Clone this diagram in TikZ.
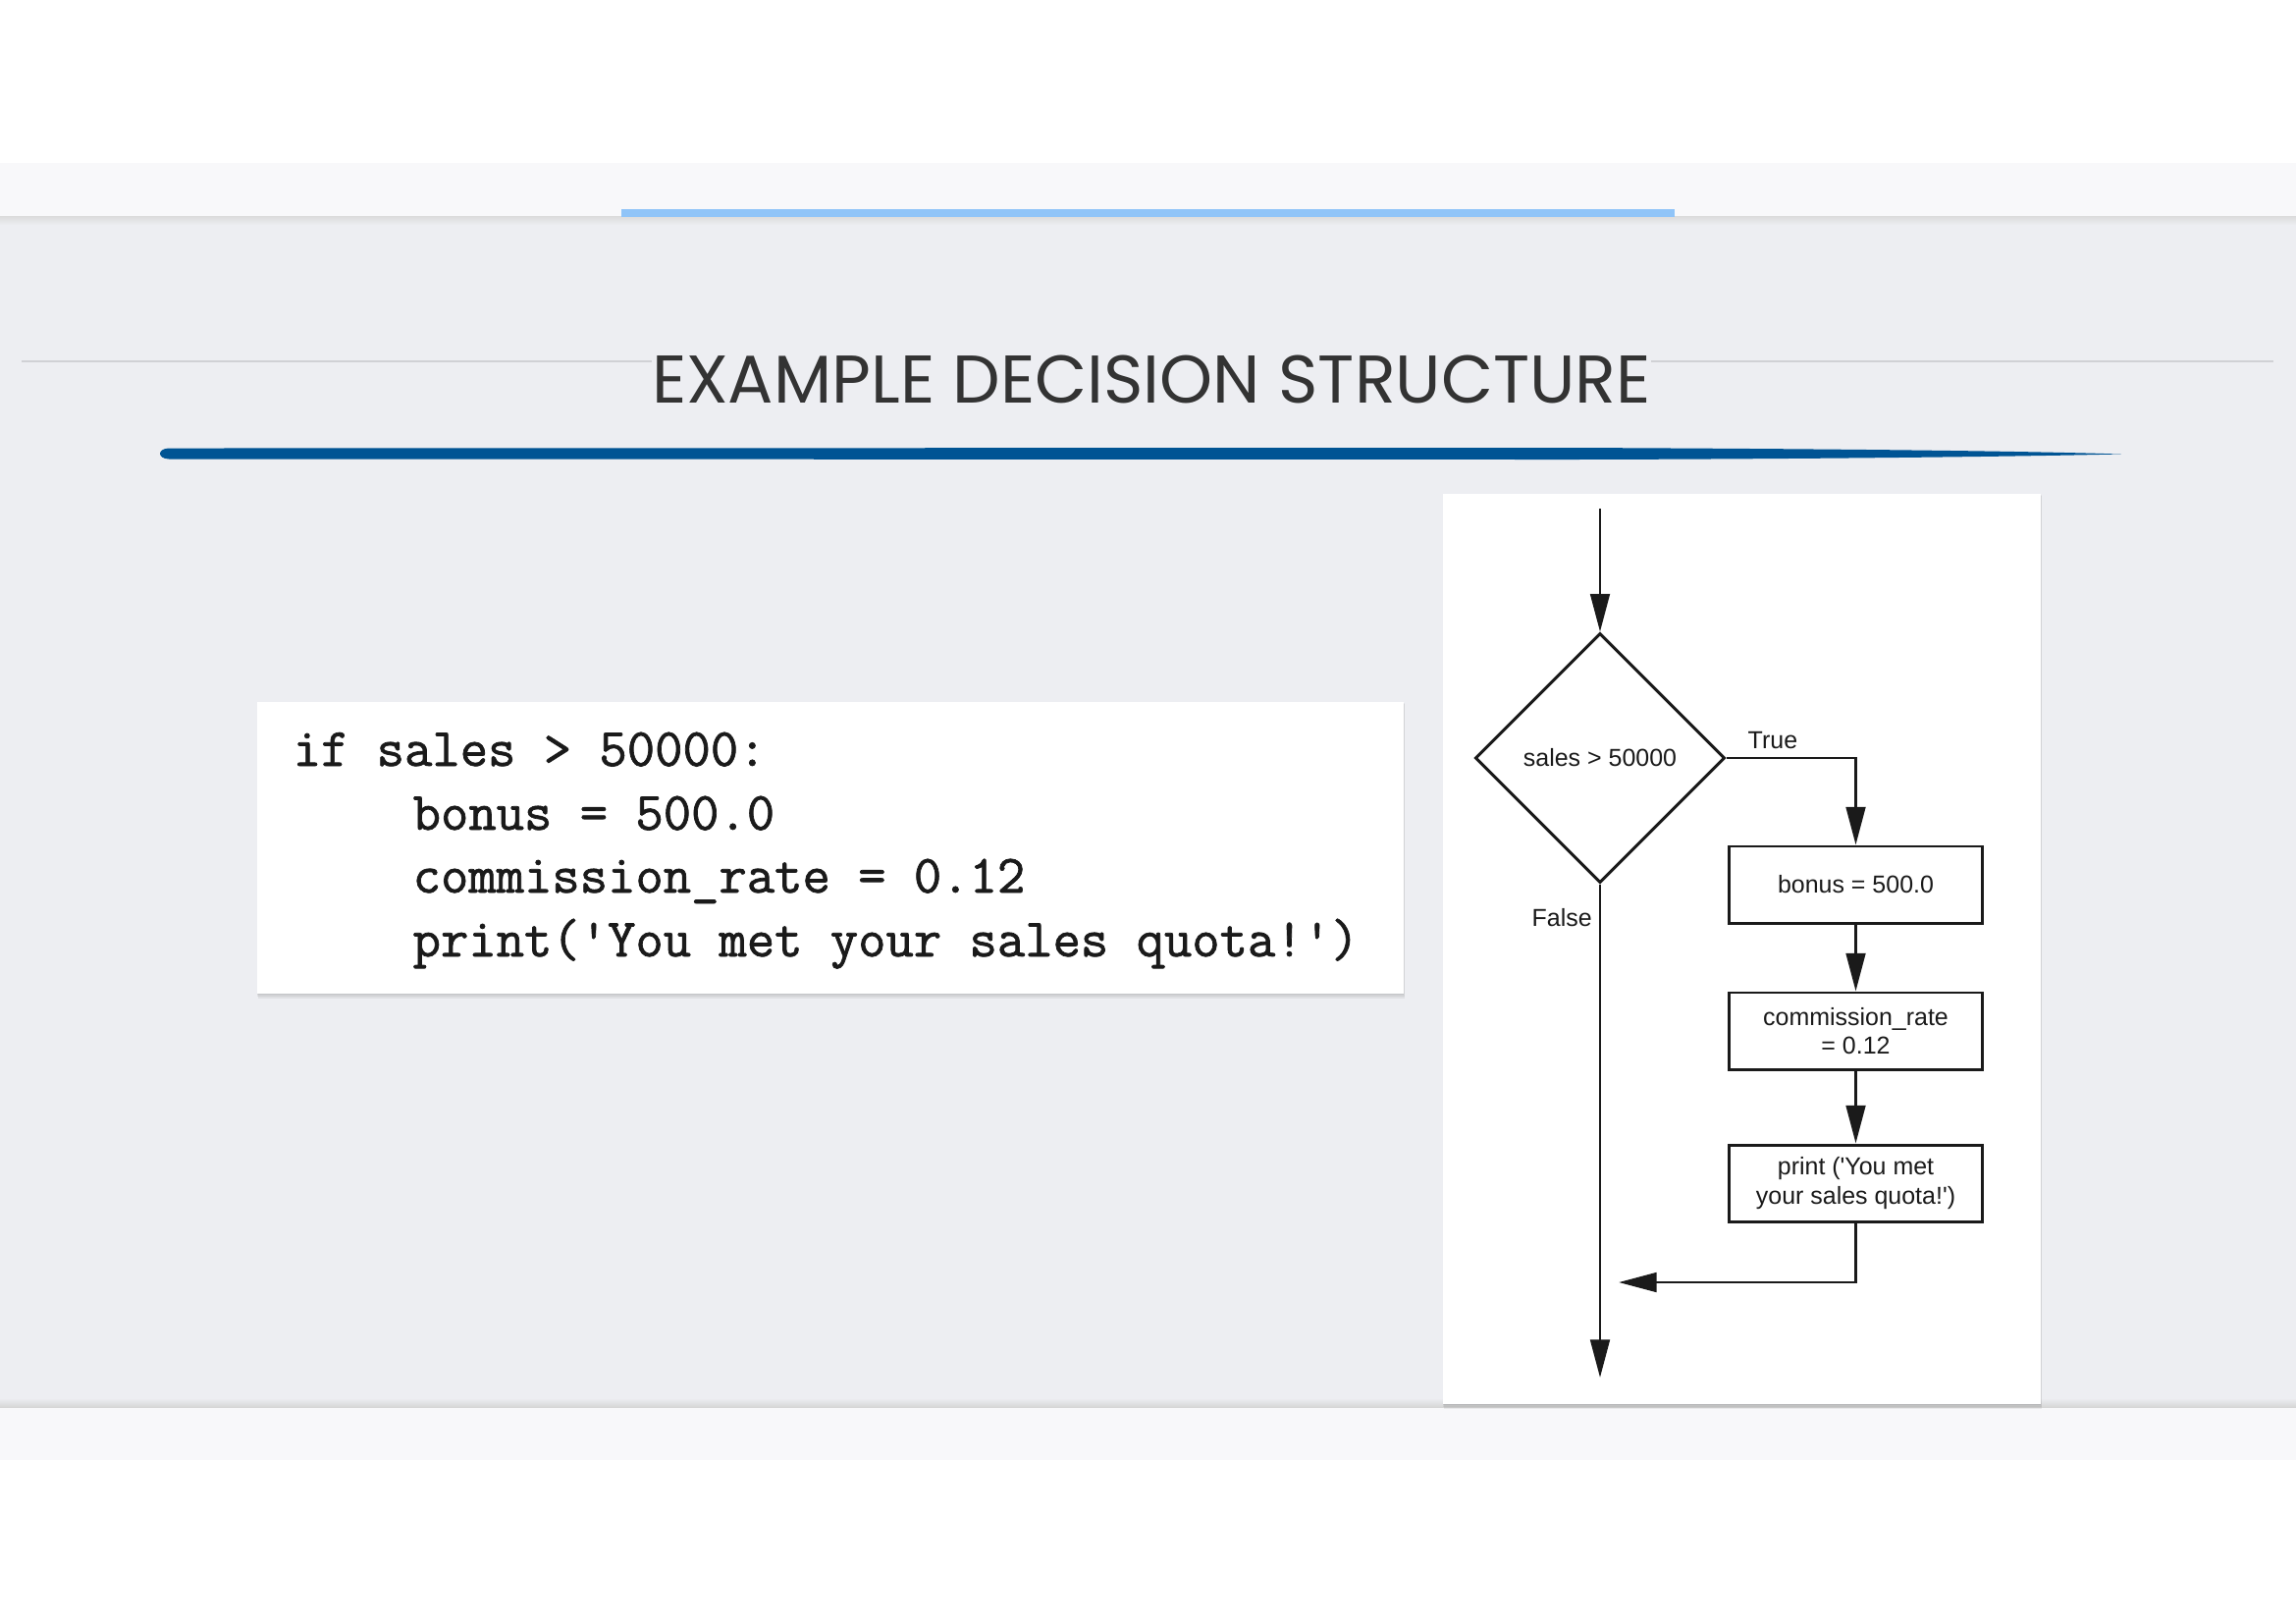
\documentclass[tikz,border=0pt]{standalone}
\usepackage{fontspec}
\setmainfont{Liberation Sans}
\newfontfamily\codemono{Latin Modern Mono}[FakeBold=1.3]
\newfontfamily\titlefont{Poppins}
\usetikzlibrary{arrows.meta,shapes.geometric}
\definecolor{pagebg}{RGB}{237,238,242}
\definecolor{stripbg}{RGB}{248,248,250}
\definecolor{barblue}{RGB}{144,196,248}
\definecolor{brushblue}{RGB}{0,84,148}
\definecolor{titlegray}{RGB}{51,51,51}
\definecolor{rulegray}{RGB}{208,209,213}
\definecolor{ink}{RGB}{26,26,26}
\newcommand{\flowfont}{\fontsize{7.1}{8.5}\selectfont}
\newcommand{\codefont}{\codemono\fontsize{15.65}{18}\selectfont}
\begin{document}
\begin{tikzpicture}[x=0.01cm,y=-0.01cm,
  flowline/.style={draw=ink,line width=0.8pt},
  arr/.style={flowline,-{Triangle[length=11pt,width=5.6pt]}},
  procbox/.style={draw=ink,line width=0.85pt,fill=white,minimum width=2.57cm,minimum height=0.78cm,inner sep=0pt,align=center,font=\flowfont,text=ink},
  decbox/.style={diamond,draw=ink,line width=0.85pt,minimum width=2.54cm,minimum height=2.54cm,inner sep=0pt,aspect=1,font=\flowfont,text=ink},
  lbl/.style={anchor=base west,inner sep=0pt,font=\flowfont,text=ink},
  codeline/.style={anchor=base west,inner sep=0pt,font=\codefont,text=ink},
  shadowlayer/.style={fill=black,opacity=0.06},
]
\useasboundingbox (0,0) rectangle (2339,1653);
% background
\fill[white] (0,0) rectangle (2339,1653);
\fill[stripbg] (0,166) rectangle (2339,220);
\fill[pagebg] (0,220) rectangle (2339,1433);
\fill[stripbg] (0,1433) rectangle (2339,1487);
\shade[top color=black!14,bottom color=pagebg] (0,220) rectangle (2339,229);
\shade[top color=pagebg,bottom color=black!16] (0,1424) rectangle (2339,1433);
\fill[barblue] (633,213) rectangle (1706,221);
% title
\draw[rulegray,line width=0.6pt] (22,368) -- (2316,368);
\node[anchor=base,inner xsep=0pt,inner ysep=1pt,fill=pagebg,text=titlegray,font=\titlefont\fontsize{19.55}{22}\selectfont] (title) at (1173,410) {EXAMPLE DECISION STRUCTURE};
% brush stroke
\fill[brushblue] (172,456.5) -- (1600,456) .. controls (1850,457) and (2050,459) .. (2161,462.5)
  .. controls (2050,465) and (1850,467.5) .. (1600,468) -- (172,467.5)
  .. controls (160,467) and (160,457) .. (172,456.5) -- cycle;
% code box
\foreach \d in {2,4,6} {\fill[shadowlayer] (261+\d*0.3,714+\d*0.5) rectangle (1429+\d*0.4,1011+\d);}
\node[fill=white,minimum width=11.68cm,minimum height=2.97cm,inner sep=0pt,anchor=north west] (codebox) at (261,714) {};
\node[codeline] (c1) at (298,780) {if sales > 50000:};
\node[codeline] (c2) at (420,845) {bonus = 500.0};
\node[codeline] (c3) at (420,909) {commission\_rate = 0.12};
\node[codeline] (c4) at (420,974) {print(\textquotesingle You met your sales quota!\textquotesingle)};
% flowchart panel
\foreach \d in {2,4,6} {\fill[shadowlayer] (1469+\d*0.3,502+\d*0.5) rectangle (2078+\d*0.4,1429+\d);}
\node[fill=white,minimum width=6.09cm,minimum height=9.27cm,inner sep=0pt,anchor=north west] (panel) at (1469,502) {};
\coordinate (start) at (1630,518);
\node[decbox] (dec) at (1630,772) {sales > 50000};
\node[procbox] (bonus) at (1890.5,901) {bonus = 500.0};
\node[procbox] (comm) at (1890.5,1050) {commission\_rate\\= 0.12};
\node[procbox] (prt) at (1890.5,1205) {print (\textquotesingle You met\\your sales quota!\textquotesingle)};
\coordinate (join) at (1649,1306);
\coordinate (end) at (1630,1403);
\node[lbl] (truelbl) at (1780,762) {True};
\node[lbl] (falselbl) at (1560,943) {False};
\draw[arr] (start) -- (dec.north);
\draw[arr] (dec.east) -| (bonus.north);
\draw[arr] (bonus.south) -- (comm.north);
\draw[arr] (comm.south) -- (prt.north);
\draw[arr] (prt.south) |- (join);
\draw[arr] (dec.south) -- (end);
\end{tikzpicture}
\end{document}
